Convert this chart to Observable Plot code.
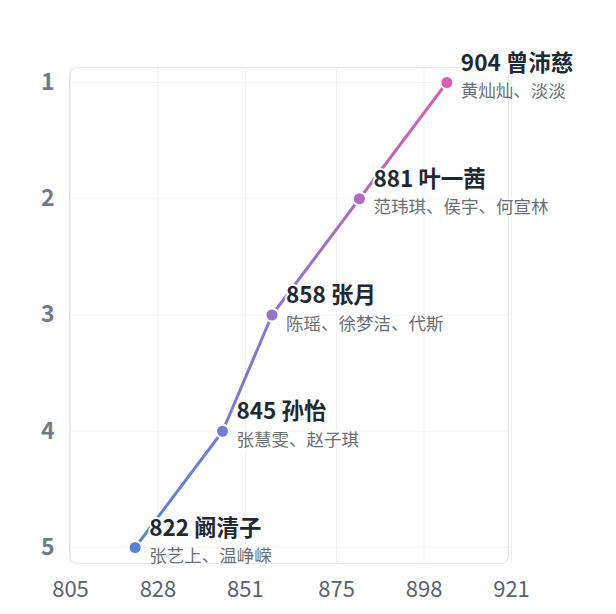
<!DOCTYPE html>
<html>
<head>
<meta charset="utf-8">
<script src="https://cdn.jsdelivr.net/npm/d3@7"></script>
<script src="https://cdn.jsdelivr.net/npm/@observablehq/plot@0.6"></script>
<style>
  html, body { margin: 0; padding: 0; background: #fff; }
  #chart svg { display: block; }
</style>
</head>
<body>
<div id="chart"></div>
<script>
const ranks = [1, 2, 3, 4, 5];
const scores = [904, 881, 858, 845, 822];
const names = ["曾沛慈", "叶一茜", "张月", "孙怡", "阚清子"];
const others = ["黄灿灿、淡淡", "范玮琪、侯宇、何宣林", "陈瑶、徐梦洁、代斯", "张慧雯、赵子琪", "张艺上、温峥嵘"];
const xTicks = [805, 828, 851, 875, 898, 921];
const yTicks = [1, 2, 3, 4, 5];

const stops = ["#5a84d2", "#8c76cc", "#d660b4"];
const interp = d3.interpolateRgbBasis(stops);

const data = ranks.map((r, i) => ({
  rank: r, score: scores[i], name: names[i], other: others[i],
  color: interp((5 - r) / 4)
}));

const font = "'Noto Sans CJK SC', 'Noto Sans', sans-serif";

function gradientDefs() {
  const defs = d3.create("svg:defs");
  const g = defs.append("linearGradient")
    .attr("id", "lineGrad")
    .attr("x1", 0).attr("y1", 1).attr("x2", 0).attr("y2", 0);
  stops.forEach((c, i) => g.append("stop").attr("offset", i / (stops.length - 1)).attr("stop-color", c));
  return defs.node();
}

const chart = Plot.plot({
  width: 616,
  height: 614,
  marginLeft: 69,
  marginRight: 108,
  marginTop: 67,
  marginBottom: 51,
  style: { fontFamily: font, background: "#fff" },
  x: { domain: [805, 921], range: [70, 511] },
  y: { domain: [1, 5], range: [82, 547] },
  marks: [
    gradientDefs,
    Plot.gridX(xTicks, { stroke: "#eef0f3", strokeOpacity: 1 }),
    Plot.gridY(yTicks, { stroke: "#f1f3f5", strokeOpacity: 1 }),
    Plot.frame({ stroke: "#e4e7ea", rx: 8, strokeWidth: 1.2 }),
    Plot.axisX(xTicks, {
      tickSize: 0, tickPadding: 18, fontSize: 22, fill: "#5b636c",
      tickFormat: d => String(d), label: null
    }),
    Plot.axisY(yTicks, {
      tickSize: 0, tickPadding: 15, fontSize: 23, fontWeight: "bold", fill: "#6e7c89",
      tickFormat: d => String(d), label: null
    }),
    Plot.line(data, { x: "score", y: "rank", stroke: "url(#lineGrad)", strokeWidth: 3 }),
    Plot.dot(data, { x: "score", y: "rank", r: 6.5, fill: "color", stroke: "white", strokeWidth: 2 }),
    Plot.text(data, {
      x: "score", y: "rank", text: d => `${d.score} ${d.name}`,
      dx: 14, dy: -19, textAnchor: "start", fontSize: 22.5, fontWeight: "bold",
      fill: "#1f2933", stroke: "white", strokeWidth: 4
    }),
    Plot.text(data, {
      x: "score", y: "rank", text: "other",
      dx: 14, dy: 9, textAnchor: "start", fontSize: 17.5,
      fill: "#6a6f75", stroke: "white", strokeWidth: 3
    })
  ]
});

document.getElementById("chart").appendChild(chart);
</script>
</body>
</html>
